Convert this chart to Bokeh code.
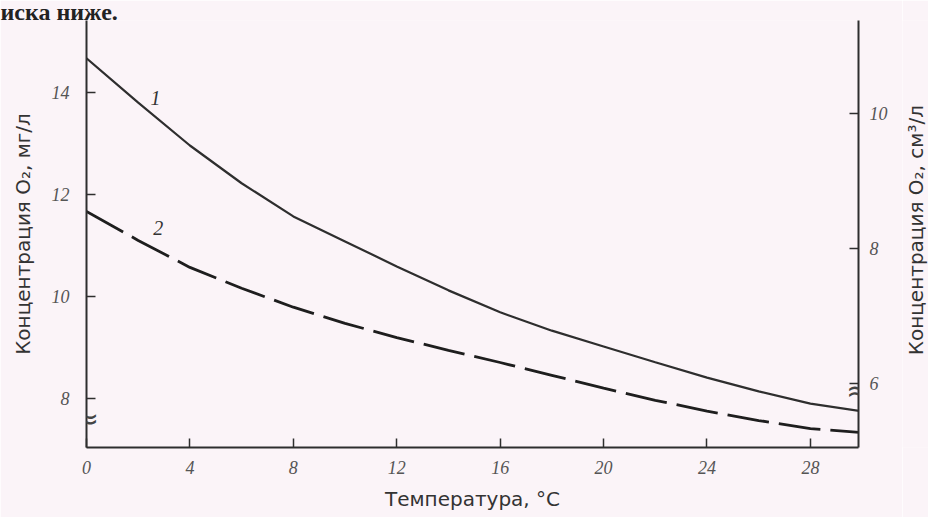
import math
from bokeh.plotting import figure
from bokeh.layouts import row
from bokeh.models import Range1d, LinearAxis, FixedTicker, Label
from bokeh.embed import file_html
from bokeh.resources import INLINE

# ---- data ----
temperature = [0, 2, 4, 6, 8, 10, 12, 14, 16, 18, 20, 22, 24, 26, 28, 30]
curve1_mg_l = [14.67, 13.80, 12.96, 12.22, 11.57, 11.08, 10.59, 10.12, 9.69,
               9.33, 9.02, 8.71, 8.41, 8.14, 7.90, 7.75]
curve2_cm3_l = [8.55, 8.12, 7.72, 7.41, 7.13, 6.89, 6.68, 6.49, 6.31,
                6.12, 5.93, 5.75, 5.59, 5.45, 5.33, 5.27]
x_ticks = [0, 4, 8, 12, 16, 20, 24, 28]
left_ticks = [8, 10, 12, 14]
right_ticks = [6, 8, 10]
x_label = "Температура, °С"
left_label = "Концентрация O₂, мг/л"
right_label = "Концентрация O₂, см³/л"
top_fragment = "иска ниже."

BG = "#fbf4f8"
INK = "#2e2e2e"
TICK_TXT = "#555555"

y_left = Range1d(7.04, 15.41)

p = figure(width=902, height=517, output_backend="svg", toolbar_location=None,
           x_range=Range1d(0, 29.86), y_range=y_left,
           min_border_left=86, min_border_right=44, min_border_top=20,
           min_border_bottom=70, x_axis_location=None, y_axis_location=None)
p.extra_y_ranges = {"right": Range1d(5.05, 11.38)}
p.background_fill_color = BG
p.border_fill_color = BG
p.outline_line_color = None
p.grid.visible = False

p.title.text = top_fragment
p.title.align = "left"
p.title.offset = -86
p.title.standoff = -8
p.title.text_font = "Liberation Serif"
p.title.text_font_style = "bold"
p.title.text_font_size = "24px"
p.title.text_color = "#222222"

def style(ax, standoff, lab_standoff):
    ax.axis_line_color = INK
    ax.axis_line_width = 2
    ax.major_tick_line_color = INK
    ax.major_tick_line_width = 1.5
    ax.major_tick_in = 9
    ax.major_tick_out = 0
    ax.minor_tick_line_color = None
    ax.major_label_text_font = "Liberation Serif"
    ax.major_label_text_font_style = "italic"
    ax.major_label_text_font_size = "18px"
    ax.major_label_text_color = TICK_TXT
    ax.major_label_standoff = standoff
    ax.axis_label_text_font = "DejaVu Sans"
    ax.axis_label_text_font_style = "normal"
    ax.axis_label_text_font_size = "20px"
    ax.axis_label_text_color = "#333333"
    ax.axis_label_standoff = lab_standoff

xaxis = LinearAxis(ticker=FixedTicker(ticks=x_ticks), axis_label=x_label)
style(xaxis, 13, 10)
p.add_layout(xaxis, "below")

laxis = LinearAxis(ticker=FixedTicker(ticks=left_ticks), axis_label=left_label)
style(laxis, 17, 14)
p.add_layout(laxis, "left")

raxis = LinearAxis(y_range_name="right", ticker=FixedTicker(ticks=right_ticks))
style(raxis, 11, 18)
p.add_layout(raxis, "right")

p.line(temperature, curve1_mg_l, line_color=INK, line_width=2.2)
p.line(temperature, curve2_cm3_l, y_range_name="right", line_color="#1e1e1e",
       line_width=2.8, line_dash="42 10")

for txt, x, y in [("1", 2.67, 13.9), ("2", 2.78, 11.35)]:
    p.add_layout(Label(x=x, y=y, text=txt, text_font="Liberation Serif",
                       text_font_style="italic", text_font_size="20px",
                       text_color="#333333", text_align="center",
                       text_baseline="middle"))

p.add_layout(Label(x=0, y=7.61, text="≈", text_font="DejaVu Sans",
                   text_font_size="30px", text_color="#444444",
                   text_align="center", text_baseline="middle"))
p.add_layout(Label(x=29.86, y=5.90, y_range_name="right", text="≈",
                   text_font="DejaVu Sans", text_font_size="30px",
                   text_color="#444444", text_align="center",
                   text_baseline="middle"))

# narrow strip holding the right-hand axis title (reads bottom-to-top)
q = figure(width=26, height=517, output_backend="svg", toolbar_location=None,
           x_range=Range1d(0, 1), y_range=y_left,
           min_border_left=0, min_border_right=0, min_border_top=20,
           min_border_bottom=70, x_axis_location=None, y_axis_location=None)
q.background_fill_color = BG
q.border_fill_color = BG
q.outline_line_color = None
q.grid.visible = False
q.add_layout(Label(x=0.5, y=11.3, text=right_label, angle=math.pi / 2,
                   text_font="DejaVu Sans", text_font_size="20px",
                   text_color="#333333", text_align="center",
                   text_baseline="middle"))

layout = row(p, q, spacing=0)
open("out.html", "w").write(file_html(layout, INLINE))
